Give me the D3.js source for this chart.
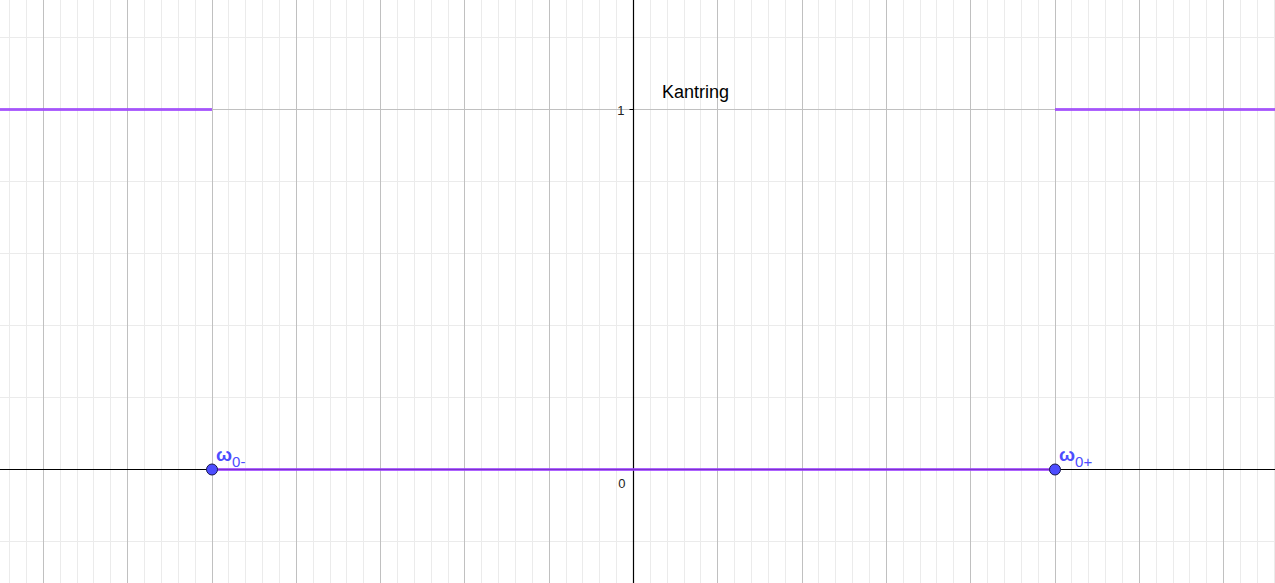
<!DOCTYPE html>
<html><head><meta charset="utf-8">
<script src="https://cdn.jsdelivr.net/npm/d3@7"></script>
<style>html,body{margin:0;padding:0;background:#fff;overflow:hidden}svg{display:block}</style>
</head><body>
<svg id="c" width="1275" height="583"></svg>
<script>
// data
const stepX = [-5, 5];            // ω0- and ω0+ positions (in major grid units)
const lowValue = 0;               // value between the edges
const highValue = 1;              // value outside
const pointLabels = ["0-", "0+"];
const yTickLabels = ["1"];
const title = "Kantring";

const W = 1275, H = 583;
const svg = d3.select("#c");
const x = d3.scaleLinear().domain([0, 1]).range([633.5, 633.5 + 84.3]);
const y = d3.scaleLinear().domain([0, 1]).range([469.5, 109.5]);
const xMin = x.invert(0), xMax = x.invert(W);
const yMin = y.invert(H), yMax = y.invert(0);
const px = v => Math.floor(v) + 0.5;

// minor grid
const minorX = d3.range(Math.ceil(xMin * 5), Math.floor(xMax * 5) + 1).map(d => d / 5);
const minorY = d3.range(Math.ceil(yMin * 5), Math.floor(yMax * 5) + 1).map(d => d / 5);
svg.append("g").selectAll("line").data(minorX).join("line")
  .attr("x1", d => px(x(d))).attr("x2", d => px(x(d)))
  .attr("y1", 0).attr("y2", H).attr("stroke", "#ebebeb").attr("stroke-width", 1);
svg.append("g").selectAll("line").data(minorY).join("line")
  .attr("y1", d => px(y(d))).attr("y2", d => px(y(d)))
  .attr("x1", 0).attr("x2", W).attr("stroke", "#ebebeb").attr("stroke-width", 1);
// major grid
const majorX = d3.range(Math.ceil(xMin), Math.floor(xMax) + 1);
const majorY = d3.range(Math.ceil(yMin), Math.floor(yMax) + 1);
svg.append("g").selectAll("line").data(majorX).join("line")
  .attr("x1", d => px(x(d))).attr("x2", d => px(x(d)))
  .attr("y1", 0).attr("y2", H).attr("stroke", "#c0c0c0").attr("stroke-width", 1);
svg.append("g").selectAll("line").data(majorY).join("line")
  .attr("y1", d => px(y(d))).attr("y2", d => px(y(d)))
  .attr("x1", 0).attr("x2", W).attr("stroke", "#c0c0c0").attr("stroke-width", 1);

// axes
svg.append("line").attr("x1", 0).attr("x2", W)
  .attr("y1", px(y(0))).attr("y2", px(y(0)))
  .attr("stroke", "#000").attr("stroke-width", 1.2);
svg.append("line").attr("y1", 0).attr("y2", H)
  .attr("x1", px(x(0))).attr("x2", px(x(0)))
  .attr("stroke", "#000").attr("stroke-width", 1.2);

// tick labels
svg.append("g").selectAll("text").data(yTickLabels).join("text")
  .attr("x", x(0) - 9).attr("y", d => y(+d) + 5)
  .attr("text-anchor", "end").attr("font-family", "Liberation Sans, Arial, sans-serif")
  .attr("font-size", 13).attr("fill", "#222").text(d => d);
svg.append("line").attr("x1", x(0) - 4).attr("x2", x(0))
  .attr("y1", px(y(1))).attr("y2", px(y(1))).attr("stroke", "#000");
svg.append("text").attr("x", x(0) - 8).attr("y", y(0) + 18)
  .attr("text-anchor", "end").attr("font-family", "Liberation Sans, Arial, sans-serif")
  .attr("font-size", 13).attr("fill", "#222").text("0");

// step function segments
const segs = [
  [xMin, stepX[0], highValue],
  [stepX[0], stepX[1], lowValue],
  [stepX[1], xMax, highValue]
];
const purple = "#9b3dff";
svg.append("g").selectAll("line").data(segs).join("line")
  .attr("x1", d => x(d[0])).attr("x2", d => x(d[1]))
  .attr("y1", d => y(d[2])).attr("y2", d => y(d[2]))
  .attr("stroke", purple).attr("stroke-opacity", 0.8).attr("stroke-width", 3);

// points
const pts = svg.append("g").selectAll("g").data(stepX).join("g");
pts.append("circle").attr("cx", d => x(d)).attr("cy", y(lowValue)).attr("r", 5.5)
  .attr("fill", "#4d4dff").attr("stroke", "#1a1a4d").attr("stroke-width", 1);
const lbl = pts.append("text").attr("x", d => x(d) + 4).attr("y", y(lowValue) - 9)
  .attr("font-family", "Liberation Sans, Arial, sans-serif").attr("fill", "#4d4dff");
lbl.append("tspan").attr("font-size", 19).attr("font-weight", "bold").text("ω");
lbl.append("tspan").attr("font-size", 15).attr("dy", 6).text((d, i) => pointLabels[i]);

// title text
svg.append("text").attr("x", 662).attr("y", 98)
  .attr("font-family", "Liberation Sans, Arial, sans-serif").attr("font-size", 18)
  .attr("fill", "#000").text(title);
</script>
</body></html>
